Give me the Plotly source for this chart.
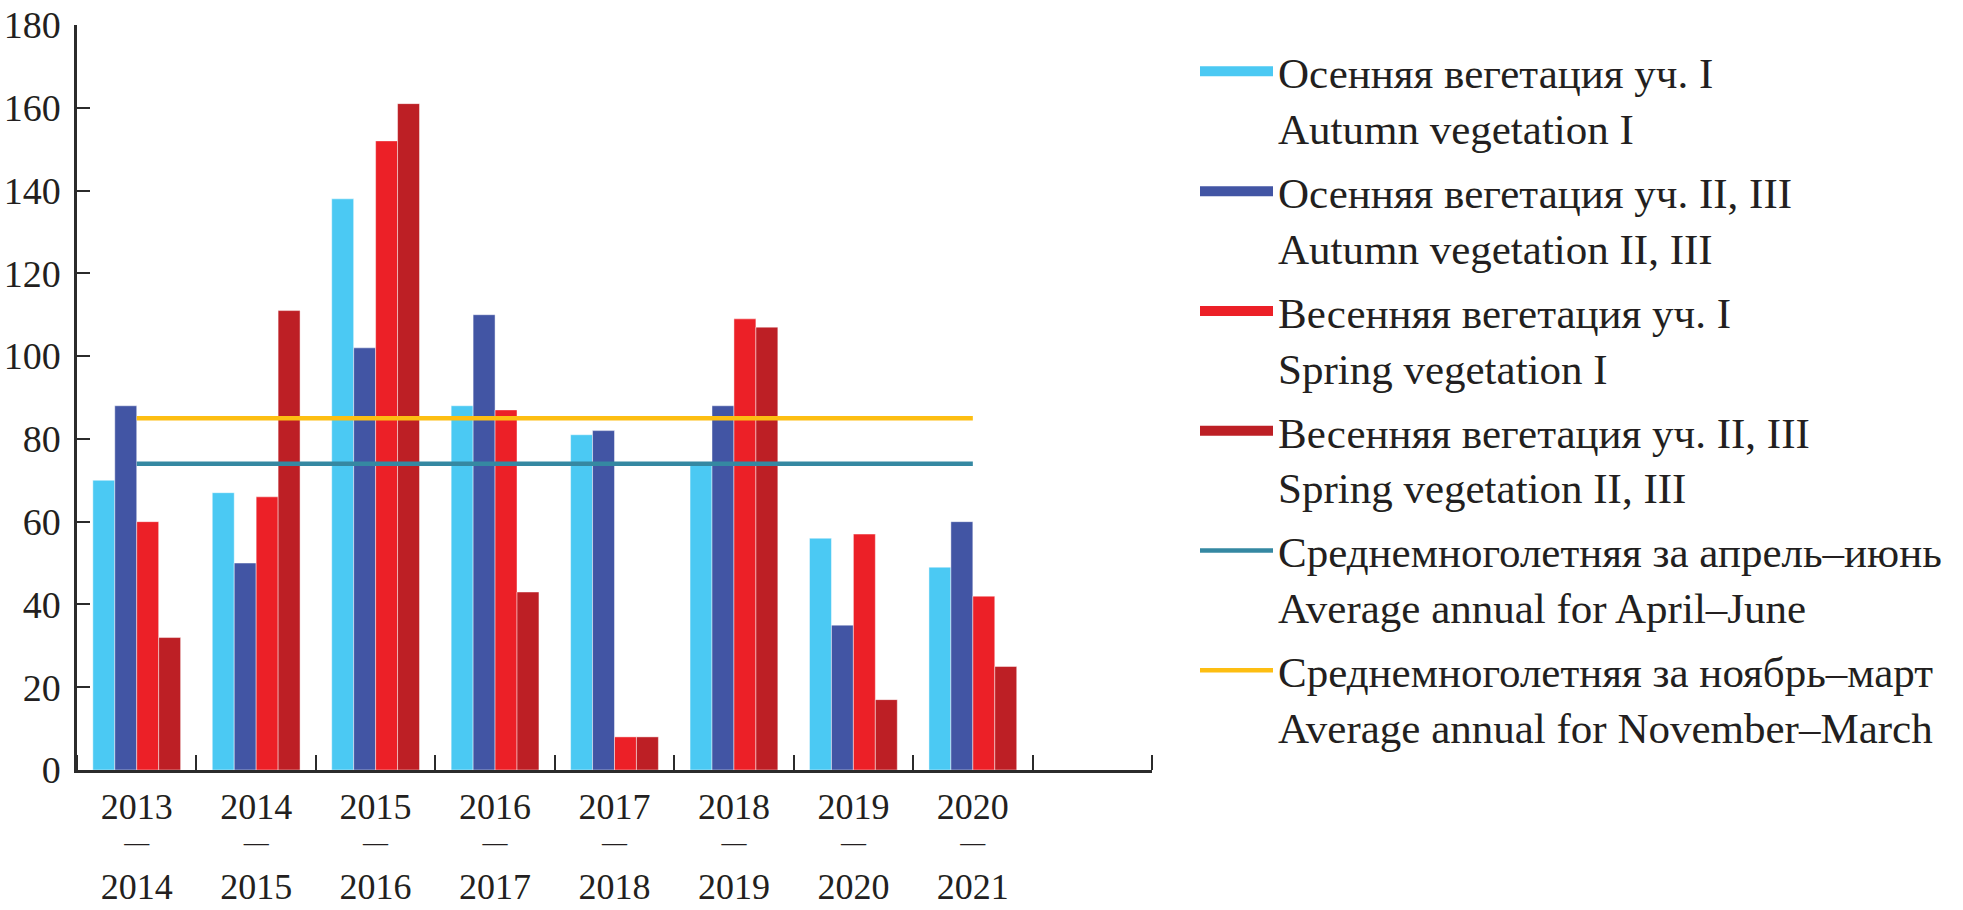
import plotly.graph_objects as go

# ---- data ----
period_start = ["2013", "2014", "2015", "2016", "2017", "2018", "2019", "2020"]
period_end = ["2014", "2015", "2016", "2017", "2018", "2019", "2020", "2021"]
period_sep = ["—", "—", "—", "—", "—", "—", "—", "—"]

autumn_I = [70, 67, 138, 88, 81, 74, 56, 49]
autumn_II_III = [88, 50, 102, 110, 82, 88, 35, 60]
spring_I = [60, 66, 152, 87, 8, 109, 57, 42]
spring_II_III = [32, 111, 161, 43, 8, 107, 17, 25]

avg_april_june = 74
avg_nov_march = 85

names = [
    "Осенняя вегетация уч. I<br>Autumn vegetation I",
    "Осенняя вегетация уч. II, III<br>Autumn vegetation II, III",
    "Весенняя вегетация уч. I<br>Spring vegetation I",
    "Весенняя вегетация уч. II, III<br>Spring vegetation II, III",
    "Среднемноголетняя за апрель–июнь<br>Average annual for April–June",
    "Среднемноголетняя за ноябрь–март<br>Average annual for November–March",
]

bar_colors = ["#4BC9F3", "#4255A4", "#EC2027", "#BD1F25"]
line_colors = ["#3588A2", "#FDBE12"]

FONT = "Liberation Serif"
TXT = "#231F20"
AX = "#2B2B2B"

xpos = list(range(len(period_start)))

fig = go.Figure()
for vals, name, col in zip([autumn_I, autumn_II_III, spring_I, spring_II_III], names[:4], bar_colors):
    fig.add_trace(go.Bar(
        x=xpos, y=vals, name=name, showlegend=False, legendgroup=name,
        marker=dict(color=col, line=dict(color="rgba(255,255,255,0.45)", width=1)),
    ))
    # legend swatch (no data drawn)
    fig.add_trace(go.Scatter(
        x=[None], y=[None], name=name, mode="lines", legendgroup=name,
        line=dict(color=col, width=17), hoverinfo="skip",
    ))

for val, name, col, xa in zip([avg_april_june, avg_nov_march], names[4:], line_colors, ["x2", "x3"]):
    fig.add_trace(go.Scatter(
        x=xpos, y=[val] * len(xpos), name=name, mode="lines", xaxis=xa,
        line=dict(color=col, width=4.5), legendgroup=name,
    ))

fig.update_layout(
    width=1963, height=910,
    paper_bgcolor="white", plot_bgcolor="white",
    margin=dict(l=77, r=811, t=25, b=140, autoexpand=False),
    barmode="group", bargap=0.265, bargroupgap=0,
    font=dict(family=FONT, size=38, color=TXT),
    showlegend=True,
    legend=dict(
        x=1.040, y=0.984, xanchor="left", yanchor="top",
        font=dict(family=FONT, size=43, color=TXT),
        valign="top", tracegroupgap=5, itemwidth=73,
        bgcolor="rgba(0,0,0,0)", maxheight=900,
    ),
    xaxis=dict(
        range=[-0.5, 8.5],
        tickvals=xpos, ticktext=period_start, ticks="",
        minor=dict(tick0=-0.5, dtick=1, ticks="inside", ticklen=15, tickwidth=2, tickcolor=AX, showgrid=False),
        showline=True, linecolor=AX, linewidth=2.5,
        showgrid=False, zeroline=False, automargin=False,
        ticklabelstandoff=3,
        tickfont=dict(family=FONT, size=36, color=TXT),
    ),
    xaxis2=dict(
        overlaying="x", anchor="y", side="bottom", range=[-0.5, 8.5],
        tickvals=xpos, ticktext=period_sep, ticks="", showline=False,
        showgrid=False, zeroline=False, automargin=False,
        ticklabelstandoff=55,
        tickfont=dict(family=FONT, size=25, color=TXT),
    ),
    xaxis3=dict(
        overlaying="x", anchor="y", side="bottom", range=[-0.5, 8.5],
        tickvals=xpos, ticktext=period_end, ticks="", showline=False,
        showgrid=False, zeroline=False, automargin=False,
        ticklabelstandoff=92,
        tickfont=dict(family=FONT, size=36, color=TXT),
    ),
    yaxis=dict(
        range=[0, 180], dtick=20, tick0=0,
        showline=True, linecolor=AX, linewidth=2.5,
        ticks="inside", ticklen=13, tickwidth=2, tickcolor=AX,
        showgrid=False, zeroline=False, automargin=False,
        ticklabelstandoff=6,
        tickfont=dict(family=FONT, size=38, color=TXT),
    ),
)

fig.write_html("out.html", config={"displayModeBar": False},
               post_script="document.body.style.margin='0';")
